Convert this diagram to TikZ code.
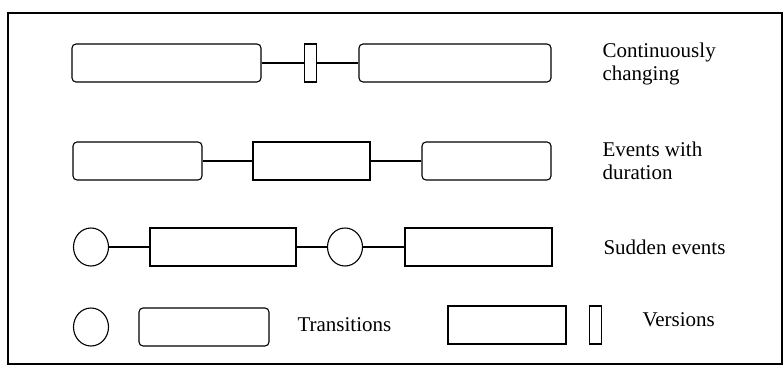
\documentclass[tikz,border=0pt]{standalone}
\usepackage{fontspec}
\setmainfont{Liberation Serif}
\usetikzlibrary{shapes.geometric}

\begin{document}
\begin{tikzpicture}[x=1pt,y=-1pt,line width=1.1pt,
  state/.style={draw,rounded corners=4pt,inner sep=0pt,minimum height=38pt},
  phase/.style={draw,inner sep=0pt,minimum height=38pt},
  version/.style={draw,inner sep=0pt,minimum width=12pt,minimum height=38pt},
  event/.style={draw,ellipse,inner sep=0pt,minimum width=35pt,minimum height=38pt},
  desc/.style={font=\fontsize{21}{23}\selectfont,align=left,inner sep=0pt,anchor=north west}]
  \def\ya{63}
  \def\yb{161}
  \def\yc{247}
  \def\yd{325}
  \useasboundingbox (0,0) rectangle (783,366);
  \draw (8,13) rectangle (782,364);
  \node[state,minimum width=189pt] (c1) at (166.5,\ya) {};
  \node[version] (cv) at (310.5,\ya) {};
  \node[state,minimum width=192pt] (c2) at (455,\ya) {};
  \draw (c1)--(cv);
  \draw (cv)--(c2);
  \node[state,minimum width=129pt] (d1) at (137.5,\yb) {};
  \node[phase,minimum width=117pt] (d2) at (311.5,\yb) {};
  \node[state,minimum width=129pt] (d3) at (486.5,\yb) {};
  \draw (d1)--(d2);
  \draw (d2)--(d3);
  \node[event] (s1) at (91,\yc) {};
  \node[phase,minimum width=146pt] (s2) at (223,\yc) {};
  \node[event] (s3) at (345,\yc) {};
  \node[phase,minimum width=147pt] (s4) at (478.5,\yc) {};
  \draw (s1)--(s2);
  \draw (s2)--(s3);
  \draw (s3)--(s4);
  \node[event] (t1) at (91,327) {};
  \node[state,minimum width=130pt] (t2) at (204,327) {};
  \node[phase,minimum width=118pt] (t3) at (507,\yd) {};
  \node[version] (t4) at (595.5,\yd) {};
  \node[desc] (lc) at (602,42.5) {Continuously\\changing};
  \node[desc] (le) at (602,141.5) {Events with\\duration};
  \node[desc] (ls) at (603,239.5) {Sudden events};
  \node[desc] (lt) at (297,317.5) {Transitions};
  \node[desc] (lv) at (642,312.5) {Versions};
\end{tikzpicture}
\end{document}
